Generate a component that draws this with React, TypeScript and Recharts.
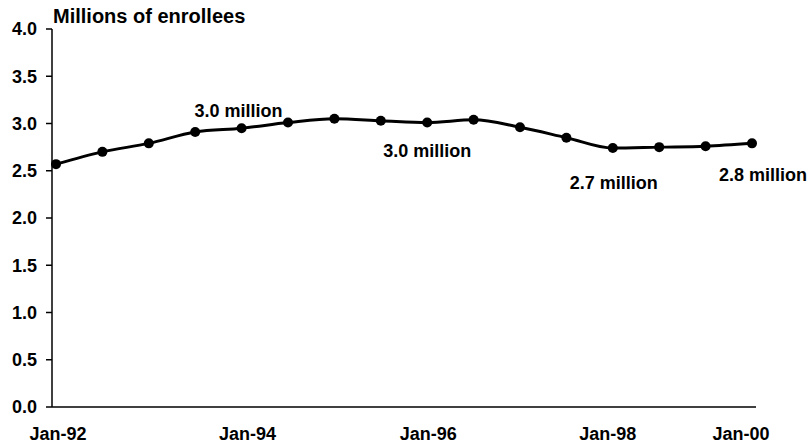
import { LineChart, Line, XAxis, YAxis, LabelList } from 'recharts';

const periods = [
    'Jan-92', 'Jul-92', 'Jan-93', 'Jul-93', 'Jan-94', 'Jul-94', 'Jan-95', 'Jul-95',
    'Jan-96', 'Jul-96', 'Jan-97', 'Jul-97', 'Jan-98', 'Jul-98', 'Jan-99', 'Jan-00',
];
const enrollees = [2.57, 2.70, 2.79, 2.91, 2.95, 3.01, 3.05, 3.03, 3.01, 3.04, 2.96, 2.85, 2.74, 2.75, 2.76, 2.79];
const annotations = ['', '', '', '', '3.0 million', '', '', '', '3.0 million', '', '', '', '2.7 million', '', '', '2.8 million'];
const shownTicks = ['Jan-92', 'Jan-94', 'Jan-96', 'Jan-98', 'Jan-00'];
const yTicks = [0, 0.5, 1, 1.5, 2, 2.5, 3, 3.5, 4];

const data = periods.map((p, i) => ({ period: p, value: enrollees[i], note: annotations[i] }));

const FONT = '"Liberation Sans", Arial, sans-serif';

// where each callout sits relative to its point
const noteOffsets: Record<number, { dx: number; dy: number }> = {
    4: { dx: -3, dy: -18 },
    8: { dx: 0, dy: 28 },
    12: { dx: 1, dy: 34 },
    15: { dx: 11, dy: 31 },
};

// small horizontal nudges for the date labels (they don't sit exactly on the points)
const tickNudge: Record<string, number> = {
    'Jan-92': 2,
    'Jan-94': 6,
    'Jan-96': 1,
    'Jan-98': -5,
    'Jan-00': -11,
};

const NoteLabel = (props: any) => {
    const { x, y, value, index } = props;
    if (!value) return null;
    const off = noteOffsets[index] || { dx: 0, dy: -18 };
    return (
        <text
            x={x + off.dx}
            y={y + off.dy}
            dy="0.36em"
            textAnchor="middle"
            fontFamily={FONT}
            fontWeight="bold"
            fontSize={18}
            fill="#000"
        >
            {value}
        </text>
    );
};

const DateTick = ({ x, y, payload }: any) => (
    <text
        x={x + (tickNudge[payload.value] || 0)}
        y={y}
        dy="0.71em"
        textAnchor="middle"
        fontFamily={FONT}
        fontWeight="bold"
        fontSize={18}
        fill="#000"
    >
        {payload.value}
    </text>
);

export default function App() {
    return (
        <div style={{ position: 'absolute', left: 0, top: 0, width: 810, height: 446, background: '#fff' }}>
            <div
                style={{
                    position: 'absolute',
                    left: 53,
                    top: 6,
                    fontFamily: FONT,
                    fontWeight: 'bold',
                    fontSize: 20,
                    lineHeight: '20px',
                    color: '#000',
                }}
            >
                Millions of enrollees
            </div>
            <LineChart
                width={810}
                height={446}
                data={data}
                margin={{ top: 29, right: 54, left: 0, bottom: 0 }}
            >
                <XAxis
                    dataKey="period"
                    height={39}
                    ticks={shownTicks}
                    interval={0}
                    padding={{ left: 4, right: 4 }}
                    tickLine={false}
                    tickSize={0}
                    tickMargin={20}
                    axisLine={{ stroke: '#000', strokeWidth: 1.5 }}
                    tick={<DateTick />}
                />
                <YAxis
                    width={52}
                    domain={[0, 4]}
                    ticks={yTicks}
                    tickFormatter={(v: number) => v.toFixed(1)}
                    tickSize={6}
                    tickMargin={9}
                    axisLine={{ stroke: '#000', strokeWidth: 1.5 }}
                    tickLine={{ stroke: '#000', strokeWidth: 1.5 }}
                    tick={{ fill: '#000', fontSize: 18, fontWeight: 'bold', fontFamily: FONT }}
                />
                <Line
                    type="monotone"
                    dataKey="value"
                    stroke="#000"
                    strokeWidth={3}
                    dot={{ r: 5, fill: '#000', stroke: '#000', strokeWidth: 0 }}
                    isAnimationActive={false}
                >
                    <LabelList dataKey="note" content={<NoteLabel />} />
                </Line>
            </LineChart>
        </div>
    );
}
